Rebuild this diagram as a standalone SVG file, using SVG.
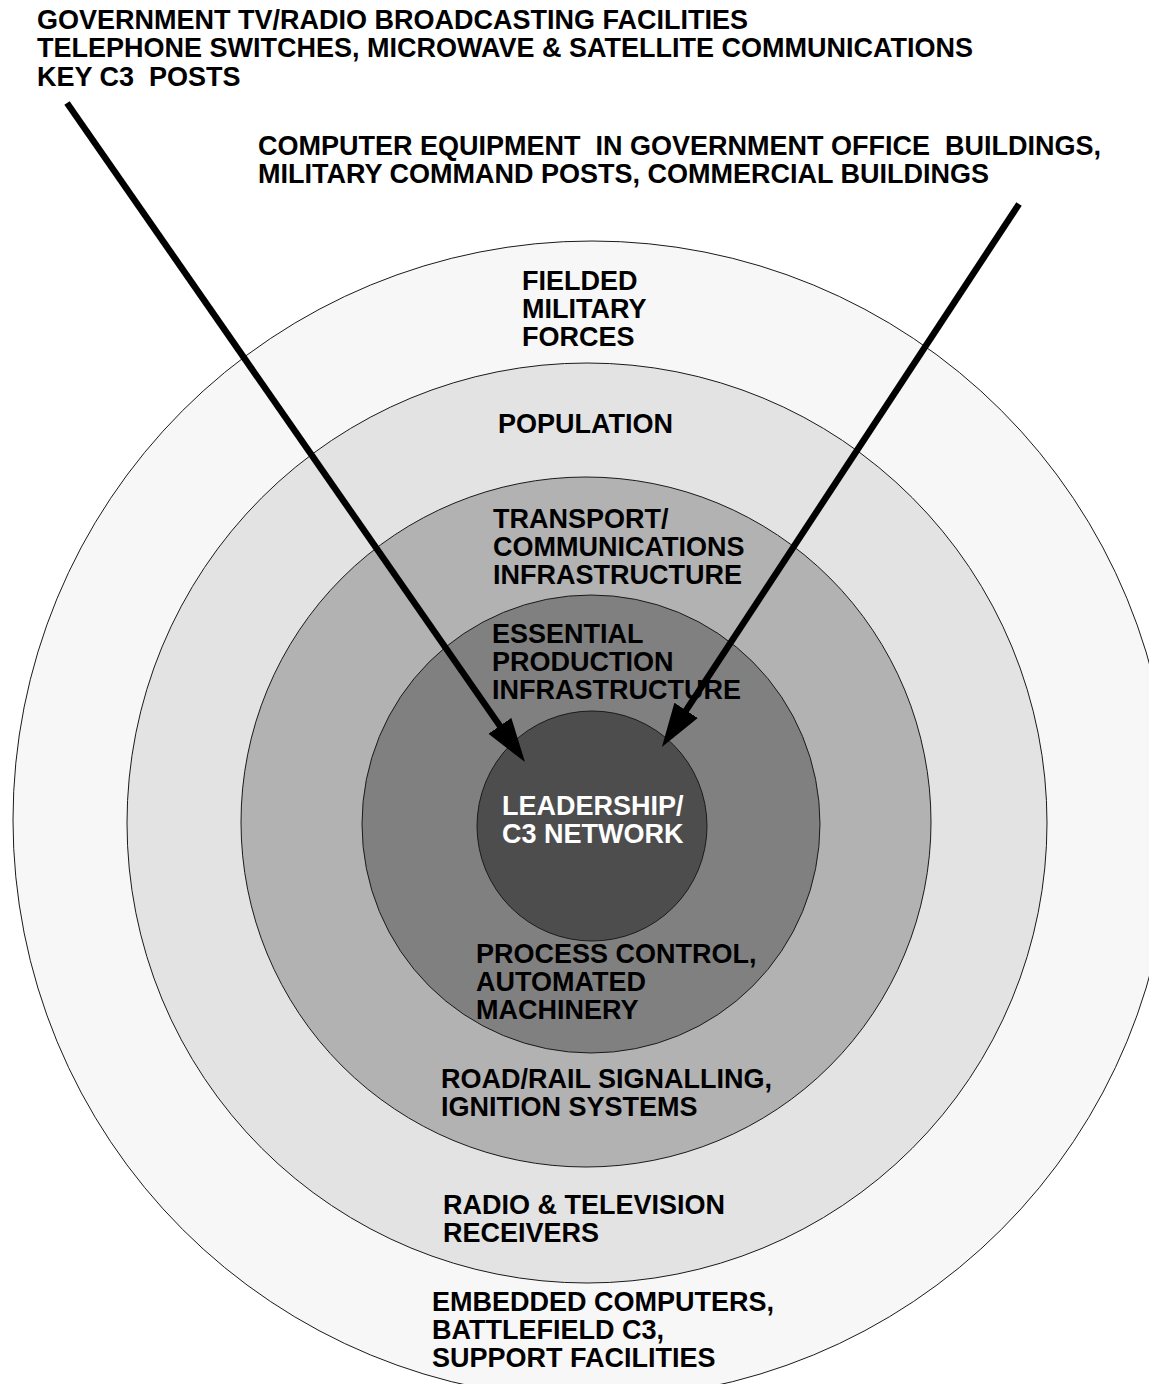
<svg xmlns="http://www.w3.org/2000/svg" width="1149" height="1384" viewBox="0 0 1149 1384">
  <style>
    .ring { stroke: #1a1a1a; stroke-width: 1; }
    .lbl { font-family: "Liberation Sans", Arial, Helvetica, sans-serif; font-weight: bold; font-size: 27px; fill: #000; }
    .inv { fill: #fff; }
    .shaft { stroke: #000; stroke-width: 6.5; fill: none; }
  </style>
  <defs>
    <marker id="head" markerUnits="userSpaceOnUse" viewBox="0 -15 46 30" markerWidth="46" markerHeight="30" refX="2" refY="0" orient="auto">
      <path d="M0,-14 L44,0 L0,14 Z" fill="#000"/>
    </marker>
  </defs>

  <rect width="1149" height="1384" fill="#fff"/>

  <!-- concentric target rings, outermost first -->
  <g id="ring-forces">
    <circle class="ring" cx="592" cy="820" r="579" fill="#f7f7f7"/>
  </g>
  <g id="ring-population">
    <circle class="ring" cx="587" cy="823" r="460" fill="#e3e3e3"/>
  </g>
  <g id="ring-transport">
    <circle class="ring" cx="586" cy="822" r="345" fill="#b2b2b2"/>
  </g>
  <g id="ring-production">
    <circle class="ring" cx="591" cy="824" r="229" fill="#808080"/>
  </g>
  <g id="ring-leadership">
    <circle class="ring" cx="592" cy="826" r="115" fill="#4d4d4d"/>
  </g>

  <!-- ring labels -->
  <g id="label-forces" class="lbl">
    <text x="522" y="290">FIELDED</text>
    <text x="522" y="318">MILITARY</text>
    <text x="522" y="346">FORCES</text>
  </g>
  <g id="label-population" class="lbl">
    <text x="498" y="433">POPULATION</text>
  </g>
  <g id="label-transport" class="lbl">
    <text x="493" y="528">TRANSPORT/</text>
    <text x="493" y="556">COMMUNICATIONS</text>
    <text x="493" y="584">INFRASTRUCTURE</text>
  </g>
  <g id="label-production" class="lbl">
    <text x="492" y="643">ESSENTIAL</text>
    <text x="492" y="671">PRODUCTION</text>
    <text x="492" y="699">INFRASTRUCTURE</text>
  </g>
  <g id="label-leadership" class="lbl inv">
    <text x="502" y="815">LEADERSHIP/</text>
    <text x="502" y="843">C3 NETWORK</text>
  </g>
  <g id="label-process" class="lbl">
    <text x="476" y="963">PROCESS CONTROL,</text>
    <text x="476" y="991">AUTOMATED</text>
    <text x="476" y="1019">MACHINERY</text>
  </g>
  <g id="label-signalling" class="lbl">
    <text x="441" y="1088">ROAD/RAIL SIGNALLING,</text>
    <text x="441" y="1116">IGNITION SYSTEMS</text>
  </g>
  <g id="label-receivers" class="lbl">
    <text x="443" y="1214">RADIO &amp; TELEVISION</text>
    <text x="443" y="1242">RECEIVERS</text>
  </g>
  <g id="label-embedded" class="lbl">
    <text x="432" y="1311">EMBEDDED COMPUTERS,</text>
    <text x="432" y="1339">BATTLEFIELD C3,</text>
    <text x="432" y="1367">SUPPORT FACILITIES</text>
  </g>

  <!-- attack source captions -->
  <g id="source-broadcast" class="lbl">
    <text x="37" y="29">GOVERNMENT TV/RADIO BROADCASTING FACILITIES</text>
    <text x="37" y="57">TELEPHONE SWITCHES, MICROWAVE &amp; SATELLITE COMMUNICATIONS</text>
    <text x="37" y="86" xml:space="preserve">KEY C3  POSTS</text>
  </g>
  <g id="source-computers" class="lbl">
    <text x="258" y="155" xml:space="preserve">COMPUTER EQUIPMENT  IN GOVERNMENT OFFICE  BUILDINGS,</text>
    <text x="258" y="183">MILITARY COMMAND POSTS, COMMERCIAL BUILDINGS</text>
  </g>

  <!-- arrows converging on the leadership core -->
  <g id="connectors">
    <line class="shaft" x1="67" y1="103" x2="501" y2="727.5" marker-end="url(#head)"/>
    <line class="shaft" x1="1019" y1="204" x2="685" y2="712" marker-end="url(#head)"/>
  </g>
</svg>
